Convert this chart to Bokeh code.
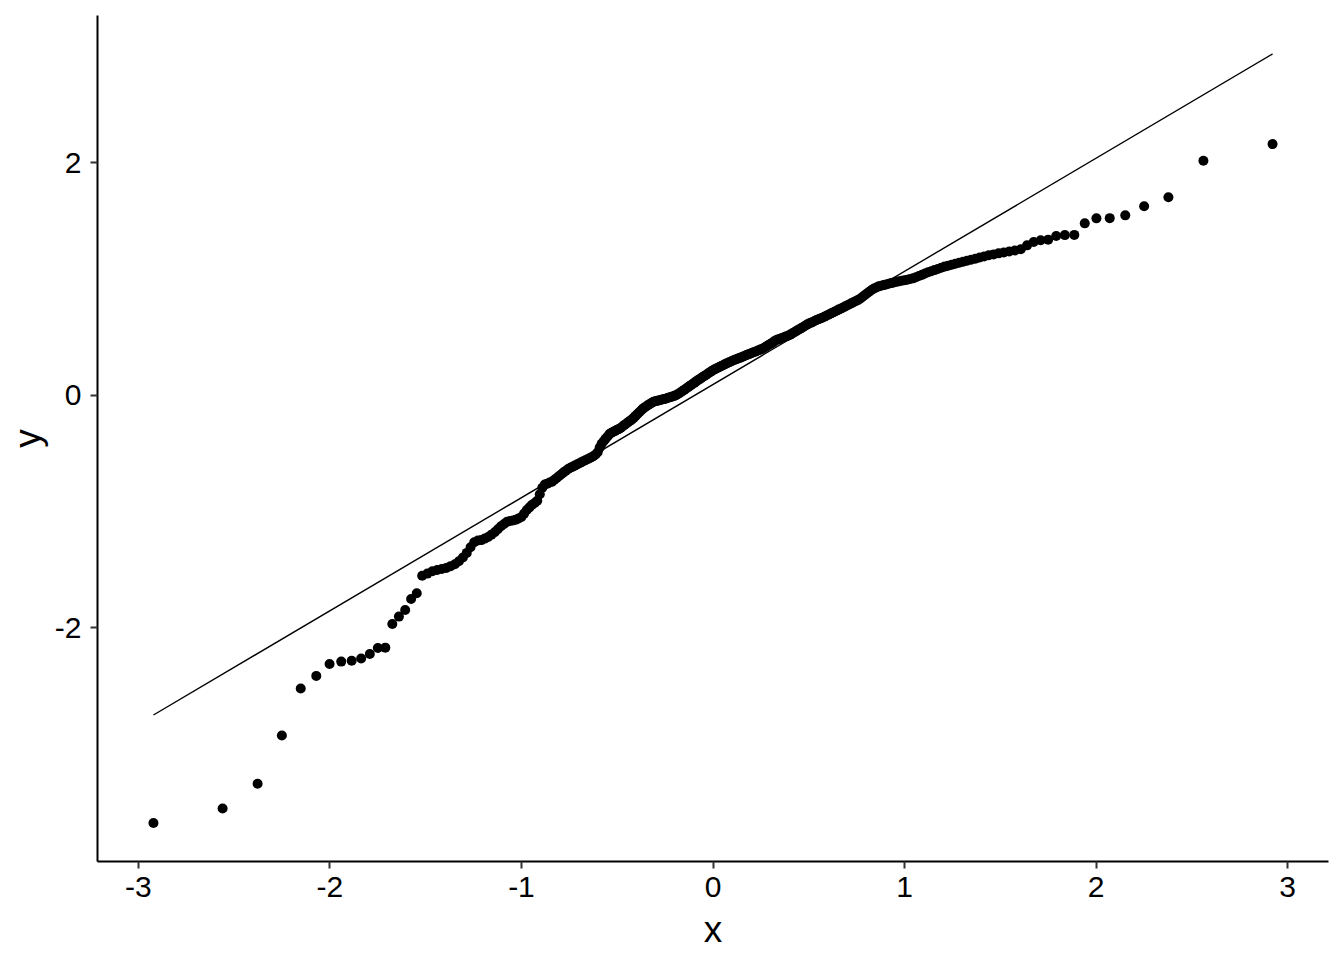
from statistics import NormalDist
import numpy as np
from bokeh.plotting import figure
from bokeh.models import FixedTicker, Range1d
from bokeh.embed import file_html
from bokeh.resources import INLINE

# Sorted sample values (y)
sample_y = [
    -3.681, -3.556, -3.343, -2.928, -2.524, -2.415, -2.312, -2.292, -2.284, -2.266,
    -2.226, -2.175, -2.172, -1.968, -1.905, -1.848, -1.753, -1.704, -1.553, -1.535,
    -1.515, -1.504, -1.496, -1.486, -1.471, -1.454, -1.428, -1.396, -1.357, -1.309,
    -1.266, -1.250, -1.247, -1.234, -1.220, -1.200, -1.179, -1.153, -1.127, -1.108,
    -1.089, -1.083, -1.078, -1.072, -1.060, -1.048, -1.019, -0.988, -0.965, -0.943,
    -0.927, -0.909, -0.852, -0.797, -0.769, -0.761, -0.752, -0.744, -0.728, -0.713,
    -0.695, -0.681, -0.664, -0.650, -0.635, -0.624, -0.615, -0.606, -0.596, -0.587,
    -0.578, -0.569, -0.560, -0.551, -0.542, -0.533, -0.523, -0.511, -0.491, -0.451,
    -0.418, -0.397, -0.375, -0.355, -0.335, -0.323, -0.315, -0.307, -0.298, -0.290,
    -0.280, -0.267, -0.255, -0.244, -0.231, -0.219, -0.208, -0.193, -0.178, -0.162,
    -0.147, -0.132, -0.116, -0.105, -0.096, -0.085, -0.075, -0.065, -0.056, -0.053,
    -0.049, -0.045, -0.041, -0.037, -0.034, -0.030, -0.025, -0.020, -0.016, -0.011,
    -0.006, -0.001, 0.008, 0.017, 0.027, 0.037, 0.047, 0.057, 0.067, 0.078,
    0.087, 0.098, 0.108, 0.119, 0.128, 0.138, 0.148, 0.158, 0.167, 0.176,
    0.186, 0.196, 0.205, 0.215, 0.222, 0.229, 0.236, 0.244, 0.251, 0.257,
    0.265, 0.272, 0.279, 0.286, 0.292, 0.298, 0.304, 0.309, 0.315, 0.321,
    0.327, 0.333, 0.339, 0.345, 0.351, 0.357, 0.363, 0.369, 0.374, 0.380,
    0.386, 0.392, 0.398, 0.406, 0.415, 0.425, 0.434, 0.443, 0.452, 0.463,
    0.472, 0.478, 0.484, 0.490, 0.495, 0.502, 0.507, 0.513, 0.521, 0.530,
    0.540, 0.549, 0.559, 0.568, 0.577, 0.587, 0.597, 0.607, 0.617, 0.622,
    0.630, 0.638, 0.646, 0.653, 0.660, 0.666, 0.675, 0.683, 0.692, 0.701,
    0.710, 0.718, 0.727, 0.736, 0.744, 0.753, 0.762, 0.771, 0.780, 0.790,
    0.799, 0.809, 0.818, 0.829, 0.845, 0.859, 0.875, 0.889, 0.905, 0.917,
    0.926, 0.936, 0.941, 0.947, 0.952, 0.958, 0.964, 0.969, 0.975, 0.980,
    0.984, 0.989, 0.994, 0.999, 1.005, 1.015, 1.025, 1.035, 1.046, 1.057,
    1.066, 1.076, 1.085, 1.096, 1.106, 1.114, 1.122, 1.130, 1.139, 1.148,
    1.156, 1.165, 1.174, 1.184, 1.193, 1.203, 1.211, 1.220, 1.228, 1.236,
    1.245, 1.255, 1.289, 1.318, 1.333, 1.338, 1.369, 1.377, 1.379, 1.478,
    1.521, 1.523, 1.547, 1.625, 1.702, 2.016, 2.160,
]

x_ticks = [-3, -2, -1, 0, 1, 2, 3]
x_tick_labels = ["-3", "-2", "-1", "0", "1", "2", "3"]
y_ticks = [-2, 0, 2]
y_tick_labels = ["-2", "0", "2"]
x_title = "x"
y_title = "y"

# Theoretical normal quantiles (ppoints) as in a QQ plot
nd = NormalDist()
n = len(sample_y)
theo_x = [nd.inv_cdf((i + 0.5) / n) for i in range(n)]

# QQ line through the quartiles
q1, q3 = np.percentile(sample_y, [25, 75])
z1, z3 = nd.inv_cdf(0.25), nd.inv_cdf(0.75)
slope = (q3 - q1) / (z3 - z1)
intercept = q1 - slope * z1
line_x = [min(theo_x), max(theo_x)]
line_y = [intercept + slope * v for v in line_x]

# ggplot-like 5% expansion
xmin, xmax = min(theo_x), max(theo_x)
ymin = min(min(sample_y), min(line_y))
ymax = max(max(sample_y), max(line_y))
dx = (xmax - xmin) * 0.05
dy = (ymax - ymin) * 0.05

FONT = "Liberation Sans"

p = figure(
    width=1344, height=960,
    x_range=Range1d(xmin - dx, xmax + dx),
    y_range=Range1d(ymin - dy, ymax + dy),
    output_backend="svg", toolbar_location=None,
    min_border_left=97, min_border_right=16, min_border_top=15, min_border_bottom=99,
)
p.background_fill_color = "white"
p.border_fill_color = "white"
p.outline_line_color = None
p.xgrid.visible = False
p.ygrid.visible = False

p.line(line_x, line_y, line_color="black", line_width=1.4)
p.scatter(theo_x, sample_y, size=10, fill_color="black", line_color="black", line_width=0)

for ax, ticks, labels in ((p.xaxis[0], x_ticks, x_tick_labels), (p.yaxis[0], y_ticks, y_tick_labels)):
    ax.ticker = FixedTicker(ticks=ticks)
    ax.major_label_overrides = {t: l for t, l in zip(ticks, labels)}
    ax.minor_tick_line_color = None
    ax.axis_line_color = "black"
    ax.axis_line_width = 2
    ax.major_tick_line_color = "#333333"
    ax.major_tick_line_width = 2
    ax.major_tick_in = 0
    ax.major_tick_out = 7
    ax.major_label_text_font = FONT
    ax.major_label_text_font_size = "30px"
    ax.major_label_text_color = "black"
    ax.axis_label_text_font = FONT
    ax.axis_label_text_font_size = "37px"
    ax.axis_label_text_font_style = "normal"
    ax.axis_label_text_color = "black"

p.xaxis[0].axis_label = x_title
p.yaxis[0].axis_label = y_title
p.xaxis[0].major_label_standoff = 8
p.xaxis[0].axis_label_standoff = 9
p.yaxis[0].major_label_standoff = 9
p.yaxis[0].axis_label_standoff = 4

open("out.html", "w").write(file_html(p, INLINE))
